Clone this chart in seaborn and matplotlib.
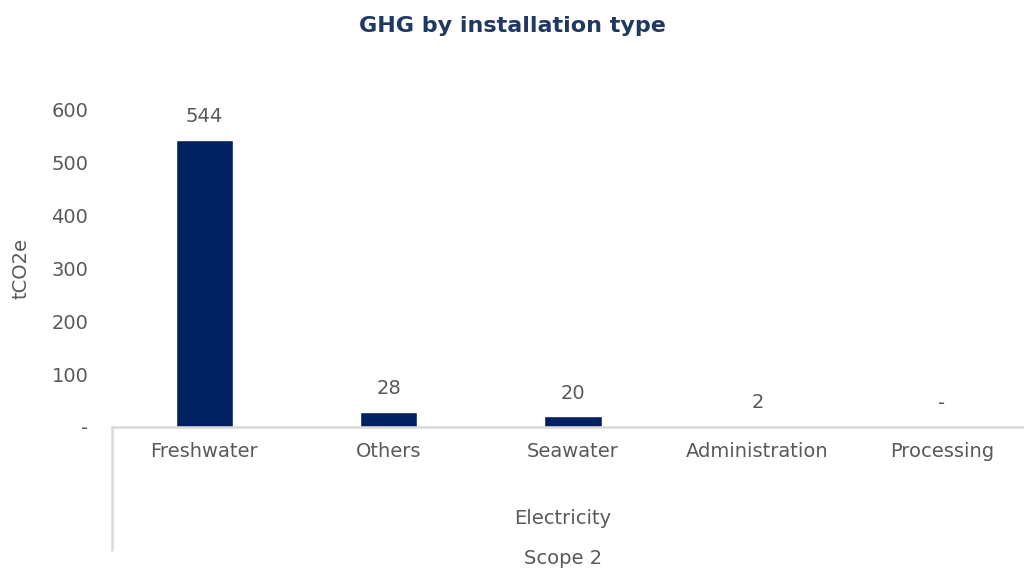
import matplotlib
matplotlib.use("Agg")
import matplotlib.pyplot as plt
from matplotlib.ticker import FuncFormatter
from matplotlib.lines import Line2D
import seaborn as sns
import pandas as pd

# Scope 2 / Electricity emissions by installation type (tCO2e)
categories = ["Freshwater", "Others", "Seawater", "Administration", "Processing"]
values = [544, 28, 20, 2, 0]
group_label = "Electricity"
scope_label = "Scope 2"
y_ticks = [0, 100, 200, 300, 400, 500, 600]

sns.set_theme(style="white")
plt.rcParams["font.family"] = ["DejaVu Sans"]

TEXT = "#595959"
NAVY = "#002060"
AXIS = "#d9d9d9"
FS = 14

df = pd.DataFrame({"type": categories, "tco2e": values})

fig = plt.figure(figsize=(10.24, 5.72), dpi=100)
ax = fig.add_axes([0.1094, 0.2535, 0.9004, 0.5542])

sns.barplot(data=df, x="type", y="tco2e", color=NAVY, width=0.31,
            saturation=1, ax=ax, order=categories)

ax.set_ylim(0, 600)
ax.set_yticks(y_ticks)
ax.yaxis.set_major_formatter(FuncFormatter(lambda v, p: "-" if v == 0 else f"{v:.0f}"))
ax.tick_params(axis="y", length=0, pad=17, labelsize=FS, labelcolor=TEXT)
ax.tick_params(axis="x", length=0, pad=11, labelsize=FS, labelcolor=TEXT)

for s in ["top", "right", "left"]:
    ax.spines[s].set_visible(False)
ax.spines["bottom"].set_color(AXIS)
ax.spines["bottom"].set_linewidth(1.8)

ax.set_xlabel("")
ax.set_ylabel("tCO2e", fontsize=FS, color=TEXT)
ax.yaxis.set_label_coords(-0.088, 0.5)

ax.bar_label(ax.containers[0],
             labels=["-" if v == 0 else f"{v:.0f}" for v in values],
             padding=10, fontsize=FS, color=TEXT)

# category grouping line and group labels under the axis
ax.add_line(Line2D([0, 0], [0, -0.388], transform=ax.transAxes,
                   color=AXIS, linewidth=1.8, clip_on=False))
ax.text(0.489, -0.29, group_label, transform=ax.transAxes, ha="center",
        va="center", fontsize=FS, color=TEXT)
ax.text(0.489, -0.416, scope_label, transform=ax.transAxes, ha="center",
        va="center", fontsize=FS, color=TEXT)

fig.suptitle("GHG by installation type", x=0.5, y=0.972, fontsize=16,
             fontweight="bold", color="#1f3864")

fig.savefig("out.png", dpi=100)
